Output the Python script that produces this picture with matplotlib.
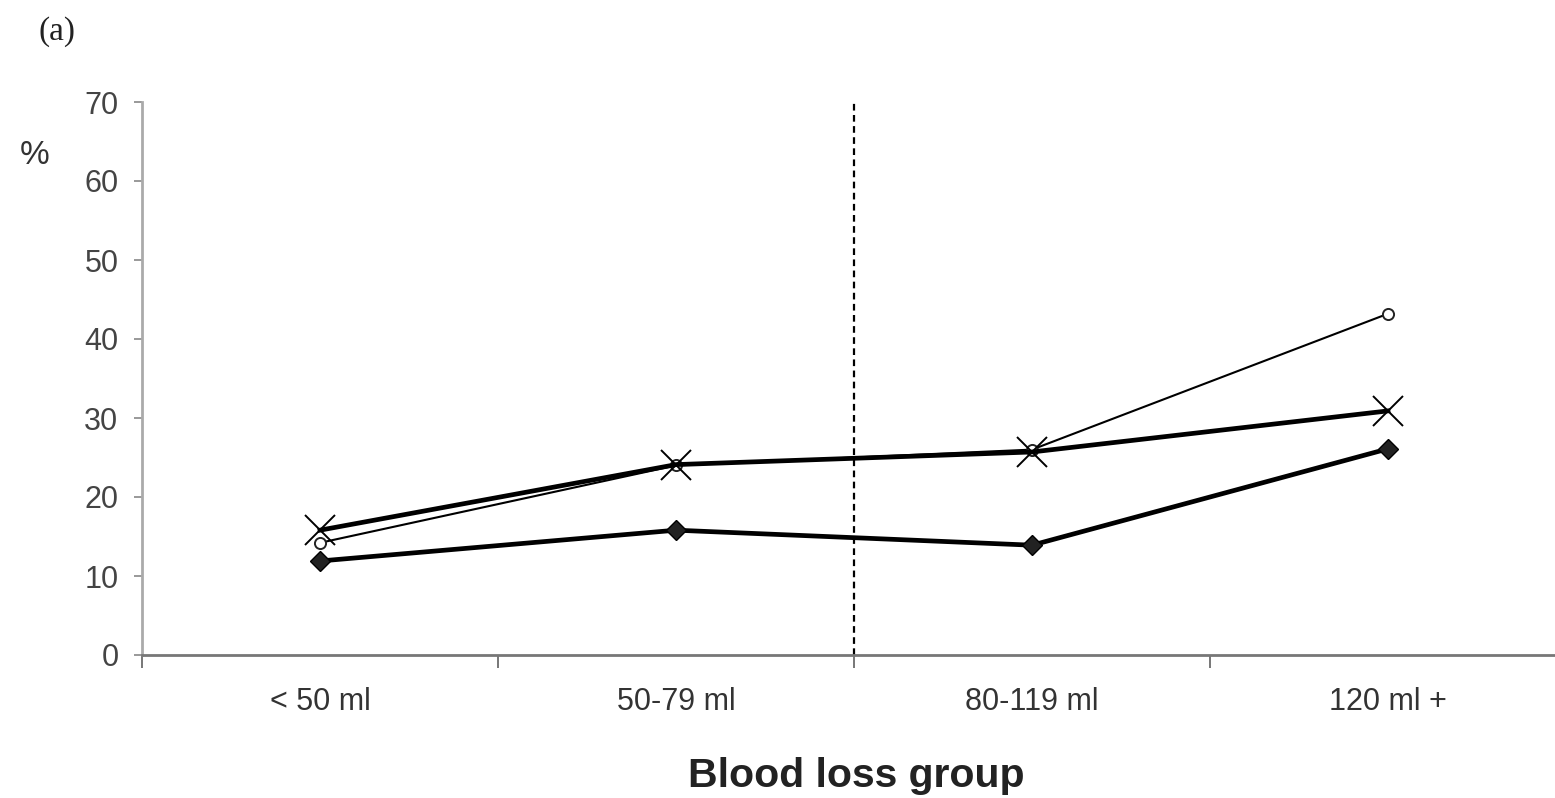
import matplotlib
matplotlib.use("Agg")
import matplotlib.pyplot as plt

# Dados
grupos = ["< 50 ml", "50-79 ml", "80-119 ml", "120 ml +"]
serie_circulo = [14.2, 24.0, 26.0, 43.2]
serie_x = [15.8, 24.1, 25.7, 30.9]
serie_losango = [11.9, 15.8, 13.9, 26.1]
yticks = [0, 10, 20, 30, 40, 50, 60, 70]

plt.rcParams['font.family'] = ['Liberation Sans', 'DejaVu Sans']

fig = plt.figure(figsize=(15.55, 7.98), dpi=100)
W, H = 1555, 798
# eixo: x de 142 a 1566 px, y de 655 (0) a 102 (70)
ax = fig.add_axes([142 / W, 1 - 655 / H, (1566 - 142) / W, (655 - 102) / H])

x = [0.5, 1.5, 2.5, 3.5]

ax.plot(x, serie_circulo, color='black', lw=1.5, marker='o', ms=8,
        mfc='white', mec='#222222', mew=1.4, zorder=3)
ax.plot(x, serie_x, color='black', lw=3.4, marker='x', ms=21, mew=1.4, zorder=4)
ax.plot(x, serie_losango, color='black', lw=3.4, marker='D', ms=10,
        mfc='#222222', mec='black', zorder=4)

# linha tracejada vertical entre 50-79 e 80-119
ax.axvline(2.0, color='black', lw=1.6, ls=(0, (3, 2)))

ax.set_xlim(0, 4)
ax.set_ylim(0, 70)
ax.set_yticks(yticks)
ax.set_xticks([0, 1, 2, 3, 4])
ax.set_xticklabels([])
ax.set_xticks(x, minor=True)
ax.set_xticklabels(grupos, minor=True)
ax.tick_params(axis='x', which='minor', length=0, pad=23, labelsize=22, labelcolor='#333333')
ax.tick_params(axis='x', which='major', length=9, width=1.4, color='#777777', direction='out')
ax.tick_params(axis='y', length=6, width=1.4, color='#999999', pad=11, labelsize=22,
               labelcolor='#444444')

for s in ['top', 'right']:
    ax.spines[s].set_visible(False)
ax.spines['left'].set_color('#aaaaaa')
ax.spines['left'].set_linewidth(2)
ax.spines['bottom'].set_color('#777777')
ax.spines['bottom'].set_linewidth(2)

fig.text(35 / W, 1 - 155 / H, "%", fontsize=24, color='#333333', ha='center', va='center')
fig.text(57 / W, 1 - 32 / H, "(a)", fontsize=24, family='Liberation Serif',
         color='#222222', ha='center', va='center')
fig.text(856 / W, 1 - 776 / H, "Blood loss group", fontsize=29.5, fontweight='bold',
         color='#222222', ha='center', va='center')

fig.savefig("out.png", dpi=100)
